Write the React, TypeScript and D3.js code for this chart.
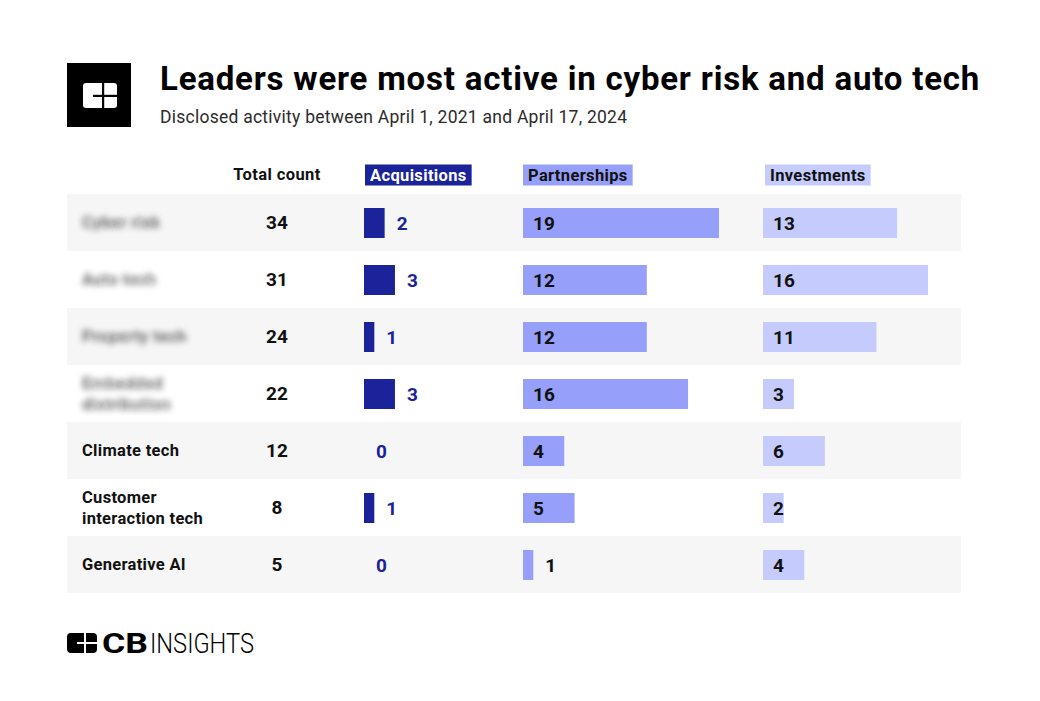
import React, { useEffect, useRef } from "react";
import * as d3 from "d3";

const categories: string[][] = [
  ["Cyber risk"],
  ["Auto tech"],
  ["Property tech"],
  ["Embedded", "distribution"],
  ["Climate tech"],
  ["Customer", "interaction tech"],
  ["Generative AI"],
];
const blurred = [true, true, true, true, false, false, false];
const totals = [34, 31, 24, 22, 12, 8, 5];
const acquisitions = [2, 3, 1, 3, 0, 1, 0];
const partnerships = [19, 12, 12, 16, 4, 5, 1];
const investments = [13, 16, 11, 3, 6, 2, 4];
const headers = ["Total count", "Acquisitions", "Partnerships", "Investments"];

const title = "Leaders were most active in cyber risk and auto tech";
const subtitle = "Disclosed activity between April 1, 2021 and April 17, 2024";

const W = 1040;
const H = 701;
const FONT = "Roboto, 'Noto Sans', Arial, sans-serif";

const ACQ = "#1a2399";
const PART = "#969ffa";
const INV = "#c6cbfe";

export default function App() {
  const ref = useRef<SVGSVGElement | null>(null);

  useEffect(() => {
    const svg = d3.select(ref.current);
    svg.selectAll("*").remove();

    const defs = svg.append("defs");
    defs
      .append("filter")
      .attr("id", "blur")
      .attr("x", "-20%")
      .attr("y", "-60%")
      .attr("width", "140%")
      .attr("height", "220%")
      .append("feGaussianBlur")
      .attr("stdDeviation", 3);

    svg.append("rect").attr("width", W).attr("height", H).attr("fill", "#fff");

    // Top logo
    const logo = svg.append("g");
    logo.append("rect").attr("x", 67).attr("y", 63).attr("width", 64).attr("height", 64).attr("fill", "#000");
    logo.append("rect").attr("x", 83).attr("y", 83).attr("width", 34).attr("height", 25).attr("rx", 3).attr("fill", "#fff");
    logo.append("rect").attr("x", 102).attr("y", 83).attr("width", 2.2).attr("height", 25).attr("fill", "#000");
    logo.append("rect").attr("x", 93).attr("y", 94.8).attr("width", 24).attr("height", 2.2).attr("fill", "#000");

    svg
      .append("text")
      .attr("x", 160)
      .attr("y", 90)
      .attr("font-family", FONT)
      .attr("font-weight", 700)
      .attr("font-size", 33)
      .attr("letter-spacing", 0.8)
      .attr("fill", "#000")
      .text(title);
    svg
      .append("text")
      .attr("x", 160)
      .attr("y", 123)
      .attr("font-family", FONT)
      .attr("font-weight", 400)
      .attr("font-size", 17.5)
      .attr("letter-spacing", 0.25)
      .attr("fill", "#2b2b2b")
      .text(subtitle);

    // Layout
    const rowTop = 194;
    const rowH = 57;
    const n = categories.length;
    const y = d3.scaleBand<number>().domain(d3.range(n)).range([rowTop, rowTop + rowH * n]).paddingInner(0);
    const x = d3.scaleLinear().domain([0, 19]).range([0, 196]);
    const tableX0 = 67;
    const tableX1 = 961;
    const labelX = 82;
    const totalX = 277;
    const acqX0 = 364;
    const partX0 = 523;
    const invX0 = 763;
    const barH = 30;

    // Row bands
    svg
      .append("g")
      .selectAll("rect")
      .data(d3.range(n))
      .join("rect")
      .attr("x", tableX0)
      .attr("y", (i) => y(i)!)
      .attr("width", tableX1 - tableX0)
      .attr("height", y.bandwidth())
      .attr("fill", (i) => (i % 2 === 0 ? "#f6f6f6" : "#ffffff"));

    // Headers
    const hy = 175;
    svg
      .append("text")
      .attr("x", totalX)
      .attr("y", hy - 1)
      .attr("text-anchor", "middle")
      .attr("dominant-baseline", "central")
      .attr("font-family", FONT)
      .attr("font-weight", 700)
      .attr("font-size", 16.5)
      .attr("letter-spacing", 0.4)
      .attr("fill", "#111")
      .text(headers[0]);

    const hdrs = [
      { t: headers[1], x: 365, fill: ACQ, color: "#fff" },
      { t: headers[2], x: 523, fill: PART, color: "#111" },
      { t: headers[3], x: 765, fill: INV, color: "#111" },
    ];
    hdrs.forEach((h) => {
      const g = svg.append("g");
      const box = g.append("rect").attr("x", h.x).attr("y", hy - 10.5).attr("height", 21).attr("fill", h.fill);
      const t = g
        .append("text")
        .attr("x", h.x + 5)
        .attr("y", hy)
        .attr("dominant-baseline", "central")
        .attr("font-family", FONT)
        .attr("font-weight", 700)
        .attr("font-size", 16.5)
        .attr("letter-spacing", 0.35)
        .attr("fill", h.color)
        .text(h.t);
      const w = (t.node() as SVGTextElement).getComputedTextLength();
      box.attr("width", w + 10);
    });

    // Row labels
    const lab = svg.append("g");
    categories.forEach((lines, i) => {
      const cy = y(i)! + y.bandwidth() / 2;
      const lh = 21;
      const t = lab
        .append("text")
        .attr("font-family", FONT)
        .attr("font-weight", 700)
        .attr("font-size", 16.5)
        .attr("letter-spacing", 0.3)
        .attr("fill", "#111")
        .attr("filter", blurred[i] ? "url(#blur)" : null)
        .attr("opacity", blurred[i] ? 0.6 : 1);
      lines.forEach((ln, k) => {
        t.append("tspan")
          .attr("x", labelX)
          .attr("y", cy + (k - (lines.length - 1) / 2) * lh)
          .attr("dominant-baseline", "central")
          .text(ln);
      });
    });

    // Totals
    svg
      .append("g")
      .selectAll("text")
      .data(totals)
      .join("text")
      .attr("x", totalX)
      .attr("y", (_, i) => y(i)! + y.bandwidth() / 2)
      .attr("text-anchor", "middle")
      .attr("dominant-baseline", "central")
      .attr("font-family", FONT)
      .attr("font-weight", 700)
      .attr("font-size", 19)
      .attr("fill", "#111")
      .text((d) => d);

    const barY = (i: number) => y(i)! + y.bandwidth() / 2 - barH / 2 + 0.5;

    // Acquisitions
    const acq = svg.append("g");
    acq
      .selectAll("rect")
      .data(acquisitions)
      .join("rect")
      .attr("x", acqX0)
      .attr("y", (_, i) => barY(i))
      .attr("width", (d) => x(d))
      .attr("height", barH)
      .attr("fill", ACQ);
    acq
      .selectAll("text")
      .data(acquisitions)
      .join("text")
      .attr("x", (d) => acqX0 + x(d) + 12)
      .attr("y", (_, i) => y(i)! + y.bandwidth() / 2 + 1)
      .attr("dominant-baseline", "central")
      .attr("font-family", FONT)
      .attr("font-weight", 700)
      .attr("font-size", 19)
      .attr("fill", ACQ)
      .text((d) => d);

    const drawInside = (vals: number[], x0: number, fill: string) => {
      const g = svg.append("g");
      g.selectAll("rect")
        .data(vals)
        .join("rect")
        .attr("x", x0)
        .attr("y", (_, i) => barY(i))
        .attr("width", (d) => x(d))
        .attr("height", barH)
        .attr("fill", fill);
      g.selectAll("text")
        .data(vals)
        .join("text")
        .attr("x", (d) => (d >= 2 ? x0 + 10 : x0 + x(d) + 12))
        .attr("y", (_, i) => y(i)! + y.bandwidth() / 2 + 1)
        .attr("dominant-baseline", "central")
        .attr("font-family", FONT)
        .attr("font-weight", 700)
        .attr("font-size", 19)
        .attr("fill", "#111")
        .text((d) => d);
    };
    drawInside(partnerships, partX0, PART);
    drawInside(investments, invX0, INV);

    // Bottom logo
    const bl = svg.append("g");
    bl.append("rect").attr("x", 67).attr("y", 633).attr("width", 30).attr("height", 20).attr("rx", 4).attr("fill", "#000");
    bl.append("rect").attr("x", 84).attr("y", 633).attr("width", 2).attr("height", 20).attr("fill", "#fff");
    bl.append("rect").attr("x", 77).attr("y", 642).attr("width", 20).attr("height", 2).attr("fill", "#fff");
    bl.append("text")
      .attr("x", 102)
      .attr("y", 653)
      .attr("font-family", FONT)
      .attr("font-weight", 700)
      .attr("font-size", 28)
      .attr("textLength", 46)
      .attr("lengthAdjust", "spacingAndGlyphs")
      .attr("fill", "#000")
      .text("CB");
    bl.append("text")
      .attr("x", 150)
      .attr("y", 653)
      .attr("font-family", FONT)
      .attr("font-weight", 300)
      .attr("font-size", 28)
      .attr("textLength", 104)
      .attr("lengthAdjust", "spacingAndGlyphs")
      .attr("fill", "#000")
      .text("INSIGHTS");
  }, []);

  return (
    <svg
      ref={ref}
      width={W}
      height={H}
      style={{ position: "absolute", left: 0, top: 0, display: "block" }}
    />
  );
}
